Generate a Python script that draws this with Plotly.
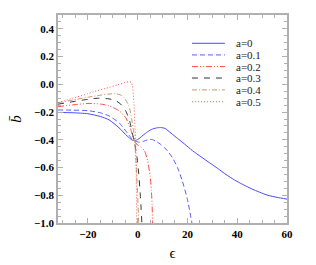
import plotly.graph_objects as go

labels = ["a=0", "a=0.1", "a=0.2", "a=0.3", "a=0.4", "a=0.5"]

a0_x = [-32, -26, -20, -15, -11.5, -7.5, -4.2, -2.2, -1, 0, 1, 2.2, 4, 6, 8, 9.5, 11, 13.4, 16, 18.8, 22, 25.5, 29, 32.2, 35.5, 38.9, 42, 45.6, 49, 52.3, 56, 60]
a0_y = [-0.203, -0.205, -0.212, -0.232, -0.256, -0.313, -0.373, -0.402, -0.405, -0.398, -0.385, -0.367, -0.342, -0.322, -0.313, -0.312, -0.318, -0.352, -0.39, -0.43, -0.478, -0.523, -0.567, -0.607, -0.65, -0.69, -0.72, -0.752, -0.778, -0.80, -0.815, -0.828]

a1_x = [-32, -26, -20, -15, -11.5, -7.5, -4.2, -2.2, -1, 0, 1, 2.5, 4, 5, 6, 7.5, 9, 10.7, 12, 14, 16, 18, 20, 21.8]
a1_y = [-0.185, -0.186, -0.19, -0.205, -0.228, -0.277, -0.349, -0.395, -0.408, -0.415, -0.417, -0.41, -0.4, -0.397, -0.399, -0.412, -0.43, -0.455, -0.48, -0.53, -0.60, -0.70, -0.83, -1.0]

a2_x = [-32, -26, -20, -15, -11.5, -7.5, -4.8, -2.8, -1.5, -0.7, 0.3, 1.3, 2.7, 4, 5, 5.5, 5.8, 6.0]
a2_y = [-0.161, -0.148, -0.138, -0.142, -0.155, -0.19, -0.24, -0.325, -0.40, -0.426, -0.44, -0.452, -0.478, -0.548, -0.66, -0.76, -0.87, -1.0]

a3_x = [-32, -26, -20, -16, -11.5, -9, -6.8, -4.8, -3.2, -2.2, -1.5, -0.3, 0.4, 1.0, 1.4, 1.7]
a3_y = [-0.143, -0.125, -0.108, -0.1, -0.105, -0.116, -0.143, -0.192, -0.265, -0.349, -0.40, -0.52, -0.64, -0.78, -0.9, -1.0]

a4_x = [-32, -26, -20, -15, -11, -8.9, -7, -5.5, -3.5, -2.4, -1.5, -1.2, -0.7, -0.2, 0.2, 0.4]
a4_y = [-0.133, -0.113, -0.093, -0.078, -0.069, -0.068, -0.075, -0.095, -0.156, -0.252, -0.35, -0.41, -0.55, -0.72, -0.88, -1.0]

a5_x = [-32, -26, -20, -17.5, -13, -8, -5, -3.4, -2.6, -2.1, -1.5, -1.1, -0.8, -0.6, -0.5, -0.4]
a5_y = [-0.132, -0.1, -0.068, -0.052, -0.03, -0.003, 0.013, 0.019, 0.015, -0.01, -0.13, -0.30, -0.40, -0.6, -0.8, -1.0]

series_x = [a0_x, a1_x, a2_x, a3_x, a4_x, a5_x]
series_y = [a0_y, a1_y, a2_y, a3_y, a4_y, a5_y]
colors = ["#4a4aff", "#5a5aff", "#ff4a4a", "#333333", "#c09a70", "#ff5a5a"]
dashes = ["solid", "5px,3px", "6px,2px,1px,2px,1px,2px", "6px,6px", "5px,2px,1px,2px", "1px,2px"]

SERIF = "Liberation Serif, Times New Roman, serif"

fig = go.Figure()
for xs, ys, c, d, lab in zip(series_x, series_y, colors, dashes, labels):
    fig.add_trace(go.Scatter(x=xs, y=ys, mode="lines", name=lab,
                             line=dict(color=c, dash=d, width=1, shape="spline", smoothing=0.6),
                             showlegend=False))

# manual legend (compact, like the reference)
leg_y = [0.864, 0.808, 0.752, 0.697, 0.640, 0.583]
for ly, c, d, lab in zip(leg_y, colors, dashes, labels):
    fig.add_shape(type="line", xref="paper", yref="paper", x0=0.585, x1=0.729, y0=ly, y1=ly,
                  line=dict(color=c, dash=d, width=1))
    fig.add_annotation(xref="paper", yref="paper", x=0.773, y=ly, text=lab, showarrow=False,
                       xanchor="left", yanchor="middle", borderpad=0,
                       font=dict(family=SERIF, size=11, color="#222222"))

axis_common = dict(showline=True, linecolor="#b0b0b0", linewidth=1.5, mirror="allticks",
                   ticks="inside", ticklen=5, tickcolor="#b0b0b0", tickwidth=1,
                   showgrid=False, zeroline=False, automargin=False,
                   tickfont=dict(family=SERIF, size=11, color="black", weight="bold"))

fig.update_xaxes(range=[-32, 60], tickvals=[-20, 0, 20, 40, 60],
                 ticktext=["\u221220", "0", "20", "40", "60"],
                 minor=dict(dtick=5, tick0=0, ticks="inside", ticklen=3, tickcolor="#b0b0b0"),
                 title=dict(text="\u03f5", font=dict(family=SERIF, size=15, color="black"), standoff=9),
                 **axis_common)
fig.update_yaxes(range=[-1.0, 0.5], tickvals=[-1.0, -0.8, -0.6, -0.4, -0.2, 0.0, 0.2, 0.4],
                 ticktext=["\u22121.0", "\u22120.8", "\u22120.6", "\u22120.4", "\u22120.2", "0.0", "0.2", "0.4"],
                 minor=dict(dtick=0.05, tick0=0, ticks="inside", ticklen=3, tickcolor="#b0b0b0"),
                 title=dict(text="<i>b\u0304</i>", font=dict(family=SERIF, size=15, color="black"), standoff=18),
                 **axis_common)

fig.update_layout(width=308, height=257, margin=dict(l=50, r=29, t=7, b=42),
                  paper_bgcolor="white", plot_bgcolor="white")
fig.write_html("out.html")
